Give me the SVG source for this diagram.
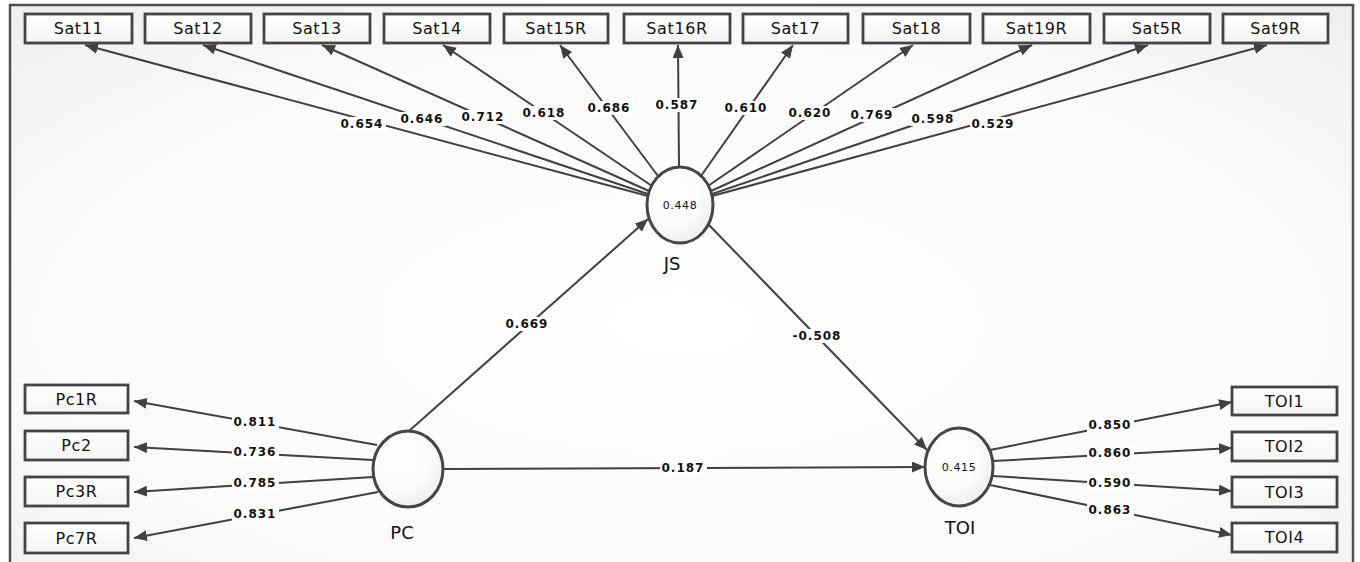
<svg xmlns="http://www.w3.org/2000/svg" width="1360" height="562" viewBox="0 0 1360 562">
<defs>
<radialGradient id="bg" cx="0.5" cy="0.55" r="0.75">
<stop offset="0" stop-color="#ffffff"/>
<stop offset="0.65" stop-color="#fafafa"/>
<stop offset="1" stop-color="#eeeeee"/>
</radialGradient>
<radialGradient id="ell" cx="0.4" cy="0.35" r="0.7">
<stop offset="0" stop-color="#ffffff"/>
<stop offset="0.6" stop-color="#fbfbfb"/>
<stop offset="1" stop-color="#ededed"/>
</radialGradient>
<linearGradient id="boxg" x1="0" y1="0" x2="0" y2="1">
<stop offset="0" stop-color="#ffffff"/>
<stop offset="1" stop-color="#f4f4f4"/>
</linearGradient>
<marker id="ah" markerUnits="userSpaceOnUse" markerWidth="13" markerHeight="11" viewBox="0 0 13 11" refX="13" refY="5.5" orient="auto">
<path d="M0,0 L13,5.5 L0,11 z" fill="#404040"/>
</marker>
<style>
.box{fill:url(#boxg);stroke:#444;stroke-width:2.8}
.bt{font-family:"DejaVu Sans",Verdana,sans-serif;font-size:16px;fill:#111;text-anchor:middle;letter-spacing:0.6px}
.ell{fill:url(#ell);stroke:#454545;stroke-width:3}
.et{font-family:"DejaVu Sans",Verdana,sans-serif;font-size:11px;fill:#111;text-anchor:middle;letter-spacing:0.6px}
.nl{font-family:"DejaVu Sans",Verdana,sans-serif;font-size:18px;fill:#111;text-anchor:middle}
.cn line{stroke:#404040;stroke-width:2;marker-end:url(#ah)}
.lbr{fill:#ffffff}
.lb{font-family:"DejaVu Sans",Verdana,sans-serif;font-size:12px;font-weight:bold;fill:#111;text-anchor:middle;letter-spacing:1px}
</style>
</defs>
<rect x="0" y="0" width="1360" height="562" fill="#ffffff"/>
<rect x="10" y="5" width="1343" height="580" fill="url(#bg)" stroke="#505050" stroke-width="2.5"/>

<g id="connectors" class="cn">
<line x1="648" y1="196" x2="85" y2="45"/>
<line x1="648" y1="194" x2="203" y2="45"/>
<line x1="649" y1="191" x2="322" y2="45"/>
<line x1="652" y1="186" x2="443" y2="45"/>
<line x1="658" y1="176" x2="560" y2="45"/>
<line x1="679" y1="167" x2="678" y2="45"/>
<line x1="701" y1="176" x2="793" y2="45"/>
<line x1="708" y1="186" x2="913" y2="45"/>
<line x1="711" y1="191" x2="1032" y2="45"/>
<line x1="712" y1="194" x2="1148" y2="45"/>
<line x1="712" y1="196" x2="1267" y2="45"/>
<line x1="377" y1="445" x2="134" y2="401"/>
<line x1="373" y1="460" x2="134" y2="447"/>
<line x1="373" y1="477" x2="134" y2="492"/>
<line x1="378" y1="492" x2="134" y2="538"/>
<line x1="990" y1="450" x2="1232" y2="402"/>
<line x1="993" y1="461" x2="1232" y2="448"/>
<line x1="993" y1="476" x2="1232" y2="491"/>
<line x1="990" y1="485" x2="1232" y2="535"/>
<line x1="409" y1="431" x2="648" y2="219"/>
<line x1="709" y1="225" x2="927" y2="450"/>
<line x1="443" y1="469" x2="925" y2="467"/>
</g>

<g id="labels">
<rect class="lbr" x="339" y="117" width="47" height="14"/><text class="lb" x="362" y="128">0.654</text>
<rect class="lbr" x="399" y="112" width="47" height="14"/><text class="lb" x="422" y="123">0.646</text>
<rect class="lbr" x="460" y="110" width="47" height="14"/><text class="lb" x="483" y="121">0.712</text>
<rect class="lbr" x="521" y="106" width="47" height="14"/><text class="lb" x="544" y="117">0.618</text>
<rect class="lbr" x="586" y="101" width="47" height="14"/><text class="lb" x="609" y="112">0.686</text>
<rect class="lbr" x="654" y="98" width="47" height="14"/><text class="lb" x="677" y="109">0.587</text>
<rect class="lbr" x="723" y="101" width="47" height="14"/><text class="lb" x="746" y="112">0.610</text>
<rect class="lbr" x="787" y="106" width="47" height="14"/><text class="lb" x="810" y="117">0.620</text>
<rect class="lbr" x="849" y="108" width="47" height="14"/><text class="lb" x="872" y="119">0.769</text>
<rect class="lbr" x="910" y="112" width="47" height="14"/><text class="lb" x="933" y="123">0.598</text>
<rect class="lbr" x="970" y="117" width="47" height="14"/><text class="lb" x="993" y="128">0.529</text>
<rect class="lbr" x="232" y="415" width="47" height="14"/><text class="lb" x="255" y="426">0.811</text>
<rect class="lbr" x="232" y="445" width="47" height="14"/><text class="lb" x="255" y="456">0.736</text>
<rect class="lbr" x="232" y="476" width="47" height="14"/><text class="lb" x="255" y="487">0.785</text>
<rect class="lbr" x="232" y="507" width="47" height="14"/><text class="lb" x="255" y="518">0.831</text>
<rect class="lbr" x="1087" y="418" width="47" height="14"/><text class="lb" x="1110" y="429">0.850</text>
<rect class="lbr" x="1087" y="446" width="47" height="14"/><text class="lb" x="1110" y="457">0.860</text>
<rect class="lbr" x="1087" y="476" width="47" height="14"/><text class="lb" x="1110" y="487">0.590</text>
<rect class="lbr" x="1087" y="503" width="47" height="14"/><text class="lb" x="1110" y="514">0.863</text>
<rect class="lbr" x="504" y="317" width="47" height="14"/><text class="lb" x="527" y="328">0.669</text>
<rect class="lbr" x="789" y="329" width="55" height="14"/><text class="lb" x="817" y="340">-0.508</text>
<rect class="lbr" x="660" y="461" width="47" height="14"/><text class="lb" x="683" y="472">0.187</text>
</g>

<g id="Sat11"><rect class="box" x="25" y="14" width="107" height="29"/><text class="bt" x="78.5" y="34">Sat11</text></g>
<g id="Sat12"><rect class="box" x="145" y="14" width="106" height="29"/><text class="bt" x="198" y="34">Sat12</text></g>
<g id="Sat13"><rect class="box" x="264" y="14" width="106" height="29"/><text class="bt" x="317" y="34">Sat13</text></g>
<g id="Sat14"><rect class="box" x="384" y="14" width="106" height="29"/><text class="bt" x="437" y="34">Sat14</text></g>
<g id="Sat15R"><rect class="box" x="504" y="14" width="104" height="29"/><text class="bt" x="556" y="34">Sat15R</text></g>
<g id="Sat16R"><rect class="box" x="624" y="14" width="106" height="29"/><text class="bt" x="677" y="34">Sat16R</text></g>
<g id="Sat17"><rect class="box" x="743" y="14" width="105" height="29"/><text class="bt" x="795.5" y="34">Sat17</text></g>
<g id="Sat18"><rect class="box" x="863" y="14" width="107" height="29"/><text class="bt" x="916.5" y="34">Sat18</text></g>
<g id="Sat19R"><rect class="box" x="983" y="14" width="107" height="29"/><text class="bt" x="1036.5" y="34">Sat19R</text></g>
<g id="Sat5R"><rect class="box" x="1104" y="14" width="106" height="29"/><text class="bt" x="1157" y="34">Sat5R</text></g>
<g id="Sat9R"><rect class="box" x="1223" y="14" width="105" height="29"/><text class="bt" x="1275.5" y="34">Sat9R</text></g>

<g id="Pc1R"><rect class="box" x="25" y="385" width="103" height="28"/><text class="bt" x="76.5" y="405">Pc1R</text></g>
<g id="Pc2"><rect class="box" x="25" y="431" width="103" height="29"/><text class="bt" x="76.5" y="451">Pc2</text></g>
<g id="Pc3R"><rect class="box" x="25" y="477" width="103" height="29"/><text class="bt" x="76.5" y="497">Pc3R</text></g>
<g id="Pc7R"><rect class="box" x="25" y="523" width="103" height="30"/><text class="bt" x="76.5" y="544">Pc7R</text></g>

<g id="TOI1"><rect class="box" x="1232" y="387" width="105" height="28"/><text class="bt" x="1284.5" y="407">TOI1</text></g>
<g id="TOI2"><rect class="box" x="1232" y="432" width="105" height="29"/><text class="bt" x="1284.5" y="452">TOI2</text></g>
<g id="TOI3"><rect class="box" x="1232" y="477" width="105" height="30"/><text class="bt" x="1284.5" y="498">TOI3</text></g>
<g id="TOI4"><rect class="box" x="1232" y="523" width="105" height="29"/><text class="bt" x="1284.5" y="543">TOI4</text></g>

<g id="JS"><ellipse class="ell" cx="680" cy="205" rx="33" ry="38"/><text class="et" x="680" y="209">0.448</text><text class="nl" x="672" y="270">JS</text></g>
<g id="PC"><ellipse class="ell" cx="408" cy="469" rx="35" ry="38"/><text class="nl" x="402" y="539">PC</text></g>
<g id="TOI"><ellipse class="ell" cx="959" cy="467" rx="34" ry="39"/><text class="et" x="959" y="471">0.415</text><text class="nl" x="960" y="534">TOI</text></g>
</svg>
